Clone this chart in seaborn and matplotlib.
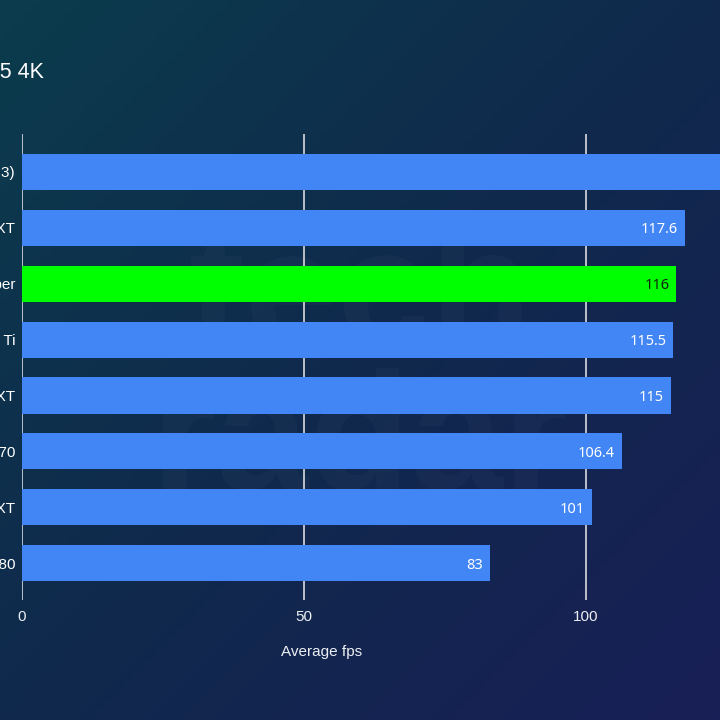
import numpy as np
import matplotlib
matplotlib.use("Agg")
import matplotlib.pyplot as plt
from matplotlib.colors import LinearSegmentedColormap
import seaborn as sns

# data (the reference is a crop: left labels, title and top bar are cut off)
title = "Forza Horizon 5 4K"
gpus = ["RTX 4080 Super (DLSS 3)", "RX 7900 XT", "RTX 4070 Ti Super", "RTX 4070 Ti",
        "RX 6950 XT", "RTX 4070", "RX 6800 XT", "RTX 3080"]
fps = [135, 117.6, 116, 115.5, 115, 106.4, 101, 83]
highlight = "RTX 4070 Ti Super"
x_ticks = [0, 50, 100]

BLUE = "#4285f4"
GREEN = "#00ff00"
colors = {g: (GREEN if g == highlight else BLUE) for g in gpus}

sns.set_theme(style="dark")
plt.rcParams["font.family"] = ["Liberation Sans", "DejaVu Sans"]

fig = plt.figure(figsize=(7.2, 7.2), dpi=100)

# gradient background
bg = fig.add_axes([0, 0, 1, 1], zorder=-10)
cmap = LinearSegmentedColormap.from_list("bg", ["#0b3c4c", "#10294c", "#181f56"])
yy, xx = np.mgrid[0:1:200j, 0:1:200j]
bg.imshow((xx + yy) / 2, cmap=cmap, aspect="auto", extent=[0, 1, 1, 0])
bg.text(0.50, 0.58, "tech", fontsize=120, fontweight="bold", color="white",
        alpha=0.025, ha="center", va="center", transform=bg.transAxes)
bg.text(0.50, 0.38, "radar", fontsize=120, fontweight="bold", color="white",
        alpha=0.025, ha="center", va="center", transform=bg.transAxes)
bg.set_axis_off()

# main axes extends past the right edge of the figure (cropped look)
ax = fig.add_axes([22 / 720, 120 / 720, 846 / 720, 466 / 720])
ax.set_facecolor("none")
sns.barplot(x=fps, y=gpus, hue=gpus, palette=colors, legend=False,
            width=0.645, saturation=1, ax=ax, zorder=3,
            edgecolor="none", linewidth=0)

ax.set_xlim(0, 150)
ax.set_ylim(7.66, -0.68)
ax.set_xticks(x_ticks)
ax.grid(axis="x", color="#c9ccd4", linewidth=1.3, zorder=0)
ax.grid(axis="y", visible=False)
for s in ax.spines.values():
    s.set_visible(False)

ax.tick_params(axis="x", length=0, pad=7, labelsize=11, labelcolor="#eceef3")
ax.tick_params(axis="y", length=0, pad=5, labelsize=11, labelcolor="white")
ax.set_xlabel("")
ax.set_ylabel("")

for p in ax.patches:
    w = p.get_width()
    if w <= 0:
        continue
    y = p.get_y() + p.get_height() / 2
    fc = p.get_facecolor()
    is_green = fc[1] > 0.9 and fc[0] < 0.1
    ax.text(w - 1.25, y, f"{w:g}", ha="right", va="center_baseline", fontsize=10.5,
            family=["Noto Sans", "DejaVu Sans"],
            color="#14210f" if is_green else "white", zorder=5)

fig.text(322 / 720, 1 - 652 / 720, "Average fps", ha="center", va="center",
         fontsize=11, color="#eceef3")
fig.text(44 / 720, 1 - 72 / 720, title, ha="right", va="center",
         fontsize=15.5, color="white")

fig.savefig("out.png", dpi=100)
